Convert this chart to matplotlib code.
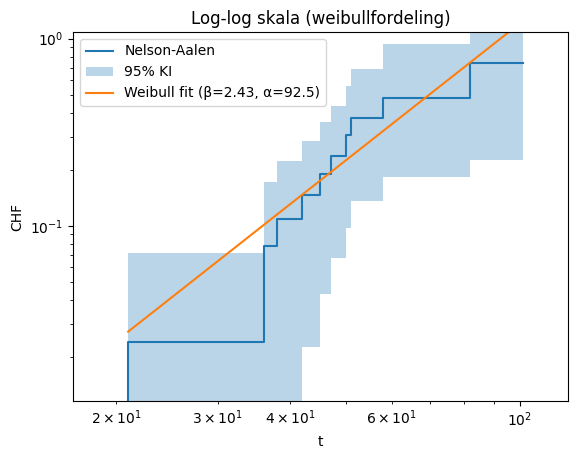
import matplotlib
matplotlib.use("Agg")
import matplotlib.pyplot as plt
import numpy as np

times = [20.99, 36.07, 37.93, 41.92, 45.08, 47.05, 50.0, 51.0, 58.0, 81.9, 101.2]
chf = [0.0240, 0.0780, 0.1094, 0.1466, 0.1897, 0.2366, 0.306, 0.378, 0.485, 0.745, 0.745]
ci_upper = [0.0718, 0.1714, 0.2234, 0.2855, 0.357, 0.4347, 0.560, 0.692, 0.933, 1.4, 1.4]
ci_lower = [0.005, 0.005, 0.005, 0.0225, 0.0432, 0.0676, 0.0976, 0.1364, 0.1824, 0.2254, 0.2254]
beta, alpha = 2.43, 92.5

fig = plt.figure(figsize=(5.78, 4.59), dpi=100)
ax = fig.add_axes([0.1263, 0.1264, 0.8564, 0.8039])
ax.step([times[0]] + times, [1e-3] + chf, where='post', color='C0', label='Nelson-Aalen')
ax.fill_between(times, ci_lower, ci_upper, step='post', color='C0', alpha=0.3, linewidth=0, label='95% KI')
tt = np.linspace(times[0], times[-1], 200)
ax.plot(tt, (tt / alpha) ** beta, color='C1', label=f'Weibull fit (β={beta:.2f}, α={alpha:.1f})')
ax.set_xscale('log')
ax.set_yscale('log')
ax.set_xlim(16.85, 121.1)
ax.set_ylim(0.0116, 1.086)
ax.set_xlabel('t')
ax.set_ylabel('CHF')
ax.set_title('Log-log skala (weibullfordeling)')
ax.legend(loc='upper left')
fig.savefig('out.png', dpi=100)
